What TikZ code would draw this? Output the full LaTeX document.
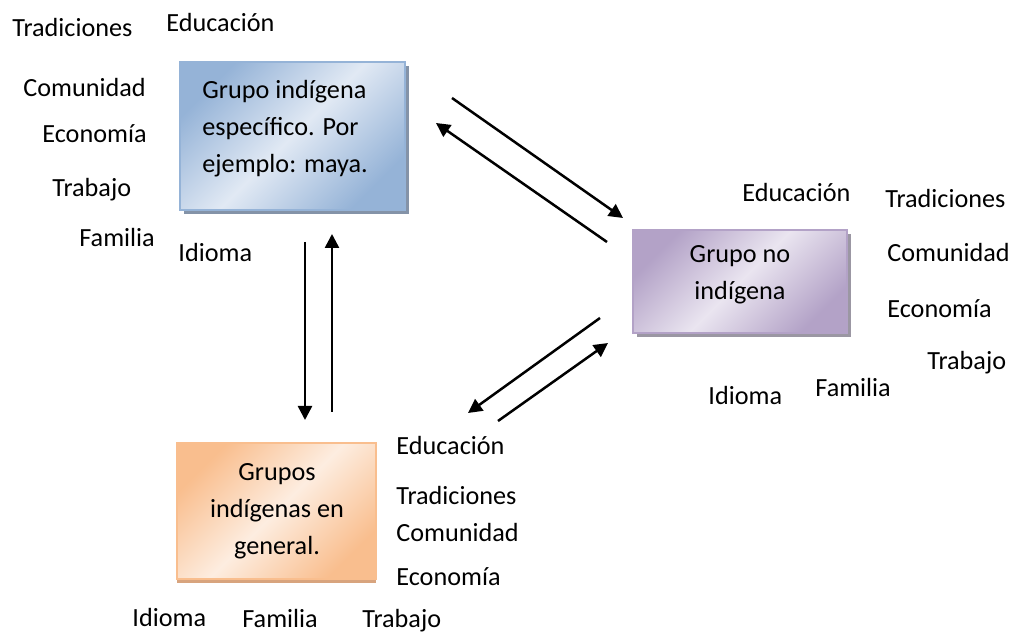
\documentclass[tikz,border=0pt]{standalone}
\usepackage{fontspec}
\setmainfont{Carlito}
\usetikzlibrary{arrows.meta,shadows}
\definecolor{bluelight}{HTML}{E1E9F4}
\definecolor{bluedark}{HTML}{95B3D7}
\definecolor{blueshadow}{HTML}{8493A8}
\definecolor{purplelight}{HTML}{EAE5F0}
\definecolor{purpledark}{HTML}{B3A2C7}
\definecolor{purpleshadow}{HTML}{9B97A3}
\definecolor{orangelight}{HTML}{FDEDE0}
\definecolor{orangedark}{HTML}{F9BE8E}
\definecolor{orangeshadow}{HTML}{D8A47E}
\tikzset{
  lbl/.style={anchor=base west, inner sep=0pt, font=\fontsize{13.1}{18.5}\selectfont},
  boxtext/.style={font=\fontsize{13.1}{18.5}\selectfont, inner sep=0pt},
  bluebox/.style={draw=bluedark, line width=0.8pt, top color=bluedark, bottom color=bluedark, middle color=bluelight, shading angle=45,
     drop shadow={shadow xshift=1.8pt, shadow yshift=-1.8pt, fill=blueshadow, opacity=1}},
  purplebox/.style={draw=purpledark, line width=0.8pt, top color=purpledark, bottom color=purpledark, middle color=purplelight, shading angle=45,
     drop shadow={shadow xshift=1.8pt, shadow yshift=-1.8pt, fill=purpleshadow, opacity=1}},
  orangebox/.style={draw=orangedark, line width=0.8pt, top color=orangedark, bottom color=orangedark, middle color=orangelight, shading angle=45,
     drop shadow={shadow xshift=0pt, shadow yshift=-1.8pt, fill=orangeshadow, opacity=1}},
  conn/.style={line width=1.25pt, -{Triangle[length=7pt,width=7pt]}}
}
\begin{document}
\begin{tikzpicture}[x=0.5pt,y=-0.5pt]
\useasboundingbox (0,0) rectangle (1013,635);

% boxes
\node[bluebox, minimum width=112.5pt, minimum height=74pt, inner sep=0pt] (b1) at (292.5,136) {};
\node[boxtext, align=left, anchor=base west] (t1) at (202,173) {Grupo indígena\\específico. Por\\ejemplo: maya.};
\node[purplebox, minimum width=107pt, minimum height=51.5pt, inner sep=0pt] (b2) at (740,281.5) {};
\node[boxtext, align=center, anchor=base] (t2) at (740,300) {Grupo no\\indígena};
\node[orangebox, minimum width=99.5pt, minimum height=68pt, inner sep=0pt] (b3) at (276.5,511) {};
\node[boxtext, align=center, anchor=base] (t3) at (277,555) {Grupos\\indígenas en\\general.};

% labels group 1
\node[lbl] (l1a) at (12,37) {Tradiciones};
\node[lbl] (l1b) at (166,32) {Educación};
\node[lbl] (l1c) at (23,97) {Comunidad};
\node[lbl] (l1d) at (42,143) {Economía};
\node[lbl] (l1e) at (52,197) {Trabajo};
\node[lbl] (l1f) at (79,247) {Familia};
\node[lbl] (l1g) at (178,262) {Idioma};

% labels group 2
\node[lbl] (l2a) at (742,202) {Educación};
\node[lbl] (l2b) at (885,208) {Tradiciones};
\node[lbl] (l2c) at (887,262) {Comunidad};
\node[lbl] (l2d) at (887,318) {Economía};
\node[lbl] (l2e) at (927,370) {Trabajo};
\node[lbl] (l2f) at (815,397) {Familia};
\node[lbl] (l2g) at (708,405) {Idioma};

% labels group 3
\node[lbl] (l3a) at (396,455) {Educación};
\node[lbl] (l3b) at (396,505) {Tradiciones};
\node[lbl] (l3c) at (396,542) {Comunidad};
\node[lbl] (l3d) at (396,586) {Economía};
\node[lbl] (l3e) at (132,627) {Idioma};
\node[lbl] (l3f) at (242,628) {Familia};
\node[lbl] (l3g) at (362,628) {Trabajo};

% arrow end points
\coordinate (a1s) at (452,98);  \coordinate (a1e) at (623,218);
\coordinate (a2s) at (607,242); \coordinate (a2e) at (436,123);
\coordinate (a3s) at (305,242); \coordinate (a3e) at (305,420);
\coordinate (a4s) at (332,412); \coordinate (a4e) at (332,234);
\coordinate (a5s) at (600,318); \coordinate (a5e) at (468,413);
\coordinate (a6s) at (498,421); \coordinate (a6e) at (608,343);

\draw[conn] (a1s) -- (a1e);
\draw[conn] (a2s) -- (a2e);
\draw[conn] (a3s) -- (a3e);
\draw[conn] (a4s) -- (a4e);
\draw[conn] (a5s) -- (a5e);
\draw[conn] (a6s) -- (a6e);
\end{tikzpicture}
\end{document}
